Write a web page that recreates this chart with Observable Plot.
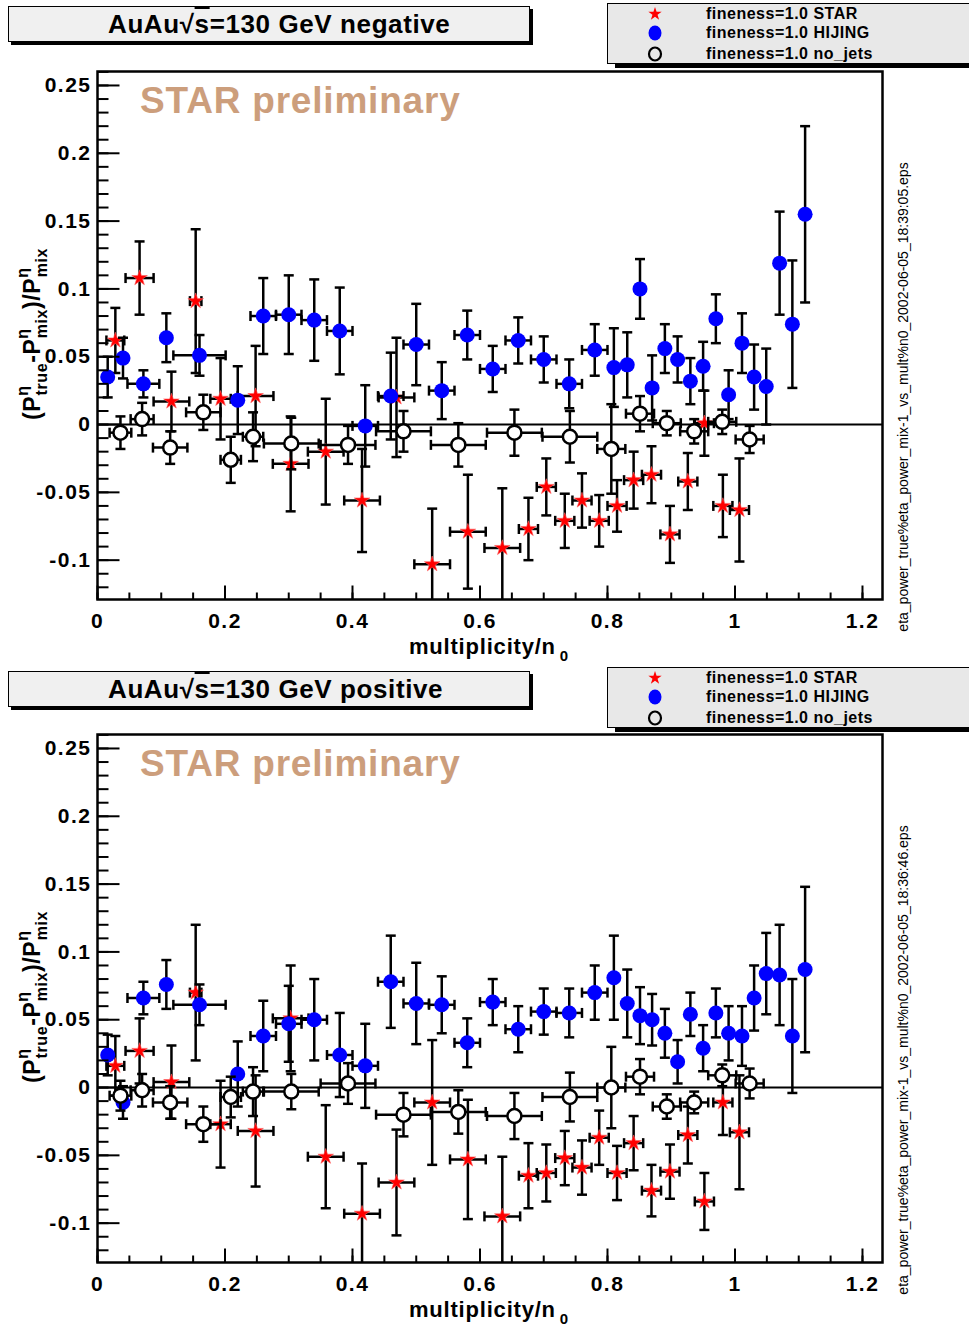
<!DOCTYPE html>
<html><head><meta charset="utf-8">
<script src="https://cdn.jsdelivr.net/npm/d3@7"></script>
<script src="https://cdn.jsdelivr.net/npm/@observablehq/plot@0.6"></script>
<style>
html,body{margin:0;padding:0;background:#fff;}
body{font-family:"Liberation Sans",Arial,Helvetica,sans-serif;}
#wrap{position:relative;width:969px;height:1327px;overflow:hidden;background:#fff;}
.panel{position:absolute;left:0;width:969px;height:663px;}
.panel > svg.plotsvg{position:absolute;left:0;top:0;overflow:visible;}
.tbox{position:absolute;left:8px;width:520px;height:34px;background:#f0f0f0;border:1px solid #000;box-shadow:3px 3px 0 #000;}
.ttext{position:absolute;left:99px;top:0;line-height:34px;font-weight:bold;font-size:26px;letter-spacing:0.6px;white-space:nowrap;color:#000;}
.ov{text-decoration:overline;}
.legend{position:absolute;left:607px;width:380px;height:59px;background:#e8e8e8;border:1px solid #000;box-shadow:8px 4px 0 #000;}
.lrow{position:absolute;left:98px;font-weight:bold;font-size:16px;line-height:16px;letter-spacing:0.5px;white-space:nowrap;color:#000;}
.lmk{position:absolute;left:0;top:0;}
</style></head>
<body><div id="wrap"></div>
<script>
// ---------------- data ----------------
// STAR (red stars)
const starX  = [0.028,0.066,0.116,0.154,0.193,0.248,0.303,0.358,0.415,0.469,0.525,0.581,0.635,0.676,0.704,0.733,0.760,0.787,0.815,0.841,0.869,0.898,0.926,0.952,0.981,1.007];
const starEx = [0.014,0.022,0.028,0.009,0.016,0.028,0.028,0.028,0.028,0.028,0.028,0.028,0.028,0.015,0.015,0.015,0.015,0.015,0.015,0.015,0.015,0.015,0.015,0.015,0.015,0.015];
const starNegY  = [0.062,0.108,0.017,0.091,0.019,0.021,-0.029,-0.020,-0.056,0.020,-0.103,-0.079,-0.091,-0.077,-0.046,-0.071,-0.056,-0.071,-0.060,-0.041,-0.037,-0.081,-0.042,0.001,-0.060,-0.063];
const starNegEy = [0.024,0.027,0.022,0.053,0.030,0.037,0.035,0.039,0.038,0.044,0.041,0.042,0.044,0.023,0.021,0.020,0.020,0.019,0.019,0.021,0.021,0.021,0.021,0.024,0.023,0.038];
const starPosY  = [0.016,0.027,0.004,0.070,-0.027,-0.032,0.051,-0.051,-0.093,-0.070,-0.011,-0.053,-0.095,-0.065,-0.063,-0.052,-0.059,-0.037,-0.063,-0.041,-0.076,-0.062,-0.035,-0.084,-0.011,-0.033];
const starPosEy = [0.022,0.024,0.027,0.050,0.032,0.041,0.039,0.038,0.037,0.039,0.046,0.044,0.044,0.024,0.021,0.020,0.020,0.020,0.020,0.020,0.019,0.020,0.021,0.021,0.024,0.042];
// HIJING (blue filled circles)
const hijX  = [0.016,0.040,0.072,0.108,0.160,0.220,0.260,0.300,0.340,0.380,0.420,0.460,0.500,0.540,0.580,0.620,0.660,0.700,0.740,0.780,0.810,0.831,0.851,0.870,0.890,0.910,0.930,0.950,0.970,0.990,1.011,1.030,1.049,1.070,1.090,1.110];
const hijEx = [0.004,0.004,0.025,0.004,0.041,0.004,0.020,0.020,0.020,0.020,0.020,0.020,0.020,0.020,0.020,0.020,0.020,0.020,0.020,0.020,0.004,0.004,0.004,0.004,0.004,0.004,0.004,0.004,0.004,0.004,0.004,0.004,0.004,0.004,0.004,0.004];
const hijNegY  = [0.035,0.049,0.030,0.064,0.051,0.018,0.080,0.081,0.077,0.069,-0.001,0.021,0.059,0.025,0.066,0.041,0.062,0.048,0.030,0.055,0.042,0.044,0.100,0.027,0.056,0.048,0.032,0.043,0.078,0.022,0.060,0.035,0.028,0.119,0.074,0.155];
const hijNegEy = [0.015,0.015,0.010,0.018,0.015,0.025,0.028,0.029,0.030,0.032,0.030,0.032,0.030,0.021,0.018,0.017,0.017,0.017,0.018,0.019,0.029,0.024,0.022,0.024,0.018,0.017,0.017,0.018,0.018,0.018,0.022,0.024,0.028,0.038,0.047,0.065];
const hijPosY  = [0.024,-0.011,0.066,0.076,0.061,0.010,0.038,0.047,0.050,0.024,0.016,0.078,0.062,0.061,0.033,0.063,0.043,0.056,0.055,0.070,0.081,0.062,0.053,0.050,0.040,0.019,0.054,0.029,0.055,0.040,0.038,0.066,0.084,0.083,0.038,0.087];
const hijPosEy = [0.015,0.012,0.012,0.018,0.015,0.024,0.026,0.028,0.030,0.031,0.031,0.034,0.030,0.021,0.018,0.017,0.017,0.017,0.018,0.020,0.031,0.025,0.021,0.019,0.018,0.016,0.016,0.017,0.018,0.020,0.022,0.024,0.030,0.037,0.042,0.061];
// no_jets (open circles)
const njX  = [0.036,0.070,0.114,0.166,0.209,0.244,0.304,0.393,0.480,0.566,0.654,0.741,0.806,0.851,0.893,0.936,0.980,1.023];
const njEx = [0.017,0.018,0.027,0.027,0.016,0.016,0.043,0.043,0.043,0.043,0.043,0.043,0.022,0.022,0.022,0.022,0.022,0.022];
const njNegY  = [-0.006,0.004,-0.017,0.009,-0.026,-0.009,-0.014,-0.015,-0.005,-0.015,-0.006,-0.009,-0.018,0.008,0.001,-0.005,0.002,-0.011];
const njNegEy = [0.012,0.012,0.012,0.013,0.017,0.018,0.019,0.014,0.015,0.016,0.017,0.019,0.033,0.013,0.009,0.009,0.009,0.010];
const njPosY  = [-0.006,-0.002,-0.011,-0.027,-0.007,-0.003,-0.003,0.003,-0.020,-0.018,-0.021,-0.007,0.000,0.008,-0.014,-0.011,0.009,0.003];
const njPosEy = [0.011,0.012,0.012,0.013,0.015,0.018,0.013,0.015,0.016,0.016,0.017,0.018,0.030,0.013,0.009,0.008,0.008,0.011];
// tick labels
const xTickLabels = [0, 0.2, 0.4, 0.6, 0.8, 1, 1.2];
const yTickLabels = [-0.1, -0.05, 0, 0.05, 0.1, 0.15, 0.2, 0.25];
const legendLabels = ["fineness=1.0 STAR", "fineness=1.0 HIJING", "fineness=1.0 no_jets"];

// ---------------- drawing ----------------
const X_DOMAIN = [0, 1.2314];
const Y_DOMAIN = [-0.129, 0.2603];
const FONT = "Liberation Sans, Arial, Helvetica, sans-serif";

const hcap = {draw(c){ c.moveTo(-5,0); c.lineTo(5,0); }};
const vcap = {draw(c){ c.moveTo(0,-5); c.lineTo(0,5); }};
const yTickMajorSym = {draw(c){ c.moveTo(0,0); c.lineTo(22,0); }};
const yTickMinorSym = {draw(c){ c.moveTo(0,0); c.lineTo(11,0); }};
const xTickMajorSym = {draw(c){ c.moveTo(0,0); c.lineTo(0,-14); }};
const xTickMinorSym = {draw(c){ c.moveTo(0,0); c.lineTo(0,-7); }};

function rows(xs, exs, ys, eys){ return xs.map((x,i)=>({x, ex: exs[i], y: ys[i], ey: eys[i]})); }

function errMarks(data){
  const withX = data.filter(d => d.ex > 0.006);
  const st = {stroke:"#000", strokeWidth:2.5, clip:true};
  return [
    Plot.ruleX(data, {x:"x", y1:d=>d.y-d.ey, y2:d=>d.y+d.ey, ...st}),
    Plot.ruleY(withX, {y:"y", x1:d=>d.x-d.ex, x2:d=>d.x+d.ex, ...st}),
    Plot.dot(data, {x:"x", y:d=>d.y+d.ey, symbol:hcap, fill:"none", ...st}),
    Plot.dot(data, {x:"x", y:d=>d.y-d.ey, symbol:hcap, fill:"none", ...st}),
    Plot.dot(withX, {x:d=>d.x-d.ex, y:"y", symbol:vcap, fill:"none", ...st}),
    Plot.dot(withX, {x:d=>d.x+d.ex, y:"y", symbol:vcap, fill:"none", ...st})
  ];
}

const fmt = d => String(+(+d).toFixed(2));

function buildPanel(top, word, stamp, starY, starEy, hijY, hijEy, njY, njEy){
  const star = rows(starX, starEx, starY, starEy);
  const hij = rows(hijX, hijEx, hijY, hijEy);
  const nj = rows(njX, njEx, njY, njEy);
  const yMinor = d3.range(-12, 27).map(i => i/100);
  const xMinor = d3.range(0, 25).map(i => i*0.05);

  const svg = Plot.plot({
    width: 969, height: 663,
    marginLeft: 97, marginRight: 87, marginTop: 71, marginBottom: 64,
    x: {domain: X_DOMAIN},
    y: {domain: Y_DOMAIN},
    style: {fontFamily: FONT, overflow: "visible", background: "transparent", color: "#000"},
    marks: [
      Plot.ruleY([0], {stroke:"#000", strokeWidth:2}),
      ...errMarks(star),
      Plot.dot(star, {x:"x", y:"y", symbol:"star", r:4.9, fill:"#ff0000", stroke:"#ff6060", strokeWidth:0.6}),
      ...errMarks(hij),
      Plot.dot(hij, {x:"x", y:"y", r:7.5, fill:"#0000ff"}),
      ...errMarks(nj),
      Plot.dot(nj, {x:"x", y:"y", r:7, fill:"#fff", stroke:"#000", strokeWidth:2.5}),
      // inward ticks
      Plot.dot(yMinor, {x:()=>0, y:d=>d, symbol:yTickMinorSym, fill:"none", stroke:"#000", strokeWidth:2}),
      Plot.dot(yTickLabels, {x:()=>0, y:d=>d, symbol:yTickMajorSym, fill:"none", stroke:"#000", strokeWidth:2}),
      Plot.dot(xMinor, {x:d=>d, y:()=>Y_DOMAIN[0], symbol:xTickMinorSym, fill:"none", stroke:"#000", strokeWidth:2}),
      Plot.dot(xTickLabels, {x:d=>d, y:()=>Y_DOMAIN[0], symbol:xTickMajorSym, fill:"none", stroke:"#000", strokeWidth:2}),
      Plot.axisX(xTickLabels, {tickSize:0, tickPadding:14, fontSize:21, fontWeight:"bold", label:null, tickFormat:fmt, fill:"#000"}),
      Plot.axisY(yTickLabels, {tickSize:0, tickPadding:6, fontSize:21, fontWeight:"bold", label:null, tickFormat:fmt, fill:"#000"}),
      Plot.frame({stroke:"#000", strokeWidth:2.5})
    ]
  });
  svg.classList.add("plotsvg");
  const s = d3.select(svg);
  s.selectAll('[aria-label="x-axis tick label"] text, [aria-label="y-axis tick label"] text').style("letter-spacing","1.5px");

  // STAR preliminary
  s.append("text").attr("x",140).attr("y",113).attr("text-anchor","start").attr("font-size",37).attr("font-weight","bold")
    .attr("fill","#cc9e7c").attr("font-family",FONT).style("letter-spacing","0.8px").text("STAR preliminary");

  // x title
  const xt = s.append("text").attr("x",489).attr("y",654).attr("text-anchor","middle")
    .attr("font-size",22).attr("font-weight","bold").attr("font-family",FONT).style("letter-spacing","0.8px");
  xt.append("tspan").text("multiplicity/n");
  xt.append("tspan").attr("dx",4).attr("dy",7).attr("font-size",15).text("0");

  // y title
  const yt = s.append("text").attr("transform","translate(40,334) rotate(-90)").attr("text-anchor","middle")
    .attr("font-size",23).attr("font-weight","bold").attr("font-family",FONT).style("letter-spacing","0.6px");
  const sup = (t) => yt.append("tspan").attr("font-size",16).attr("dy",-12).text(t);
  const sub = (t) => yt.append("tspan").attr("font-size",16).attr("dx",-10).attr("dy",19).text(t);
  const base = (t) => yt.append("tspan").attr("dy",-7).text(t);
  yt.append("tspan").text("(P"); sup("η"); sub("true"); base("-P"); sup("η"); sub("mix"); base(")/P"); sup("η"); sub("mix");

  // side stamp
  s.append("text").attr("transform","translate(908,397) rotate(-90)").attr("text-anchor","middle")
    .attr("font-size",14).attr("font-family",FONT).text(stamp);

  const div = document.createElement("div");
  div.className = "panel";
  div.style.top = top + "px";
  div.appendChild(svg);

  // title box
  const tb = document.createElement("div");
  tb.className = "tbox"; tb.style.top = (top === 0 ? 6 : 8) + "px";
  tb.innerHTML = '<div class="ttext">AuAu√<span class="ov">s</span>=130 GeV ' + word + '</div>';
  div.appendChild(tb);

  // legend box
  const lg = document.createElement("div");
  lg.className = "legend"; lg.style.top = (top === 0 ? 3 : 4) + "px";
  const rowsY = [10, 29, 50];
  legendLabels.forEach((t,i) => {
    const r = document.createElement("div");
    r.className = "lrow"; r.style.top = (rowsY[i] - 8) + "px"; r.textContent = t;
    lg.appendChild(r);
  });
  const ms = d3.create("svg").attr("class","lmk").attr("width",90).attr("height",60);
  ms.append("path").attr("d", d3.symbol(d3.symbolStar, 55)()).attr("transform","translate(47,10)").attr("fill","#ff0000");
  ms.append("ellipse").attr("cx",47).attr("cy",29).attr("rx",6.5).attr("ry",7.5).attr("fill","#0000ff");
  ms.append("ellipse").attr("cx",47).attr("cy",50).attr("rx",6).attr("ry",6.5).attr("fill","none").attr("stroke","#000").attr("stroke-width",2.2);
  lg.appendChild(ms.node());
  div.appendChild(lg);

  document.getElementById("wrap").appendChild(div);
}

buildPanel(0, "negative", "eta_power_true%eta_power_mix-1_vs_mult%n0_2002-06-05_18:39:05.eps",
  starNegY, starNegEy, hijNegY, hijNegEy, njNegY, njNegEy);
buildPanel(663, "positive", "eta_power_true%eta_power_mix-1_vs_mult%n0_2002-06-05_18:36:46.eps",
  starPosY, starPosEy, hijPosY, hijPosEy, njPosY, njPosEy);
</script>
</body></html>
